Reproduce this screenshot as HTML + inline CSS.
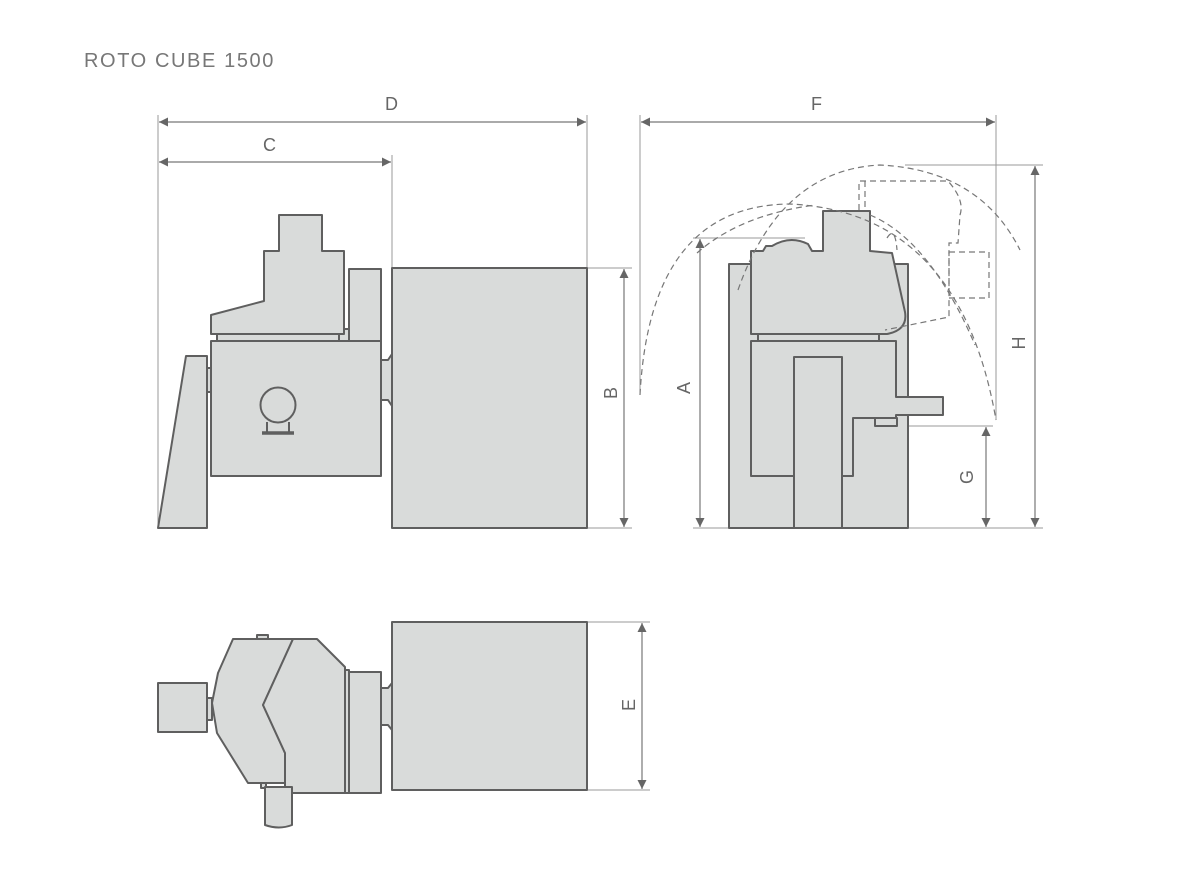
<!DOCTYPE html>
<html><head><meta charset="utf-8"><style>
html,body{margin:0;padding:0;background:#fff}
svg{display:block}
text{font-family:"Liberation Sans",sans-serif;fill:#666}
</style></head><body>
<svg width="1200" height="878" viewBox="0 0 1200 878" xmlns="http://www.w3.org/2000/svg">
<defs>
<marker id="a" viewBox="0 0 10 10" refX="10" refY="5" markerWidth="14" markerHeight="9" markerUnits="userSpaceOnUse" orient="auto-start-reverse"><path d="M0,0L10,5L0,10z" fill="#666"/></marker>
</defs>
<text x="84" y="67" font-size="20" style="fill:#777;letter-spacing:1.6px">ROTO CUBE 1500</text>

<g stroke="#999" stroke-width="1" fill="none">
<line x1="158" y1="115" x2="158" y2="528"/>
<line x1="392" y1="155" x2="392" y2="268"/>
<line x1="587" y1="115" x2="587" y2="268"/>
<line x1="587" y1="268" x2="632" y2="268"/>
<line x1="587" y1="528" x2="632" y2="528"/>
<line x1="587" y1="622" x2="650" y2="622"/>
<line x1="587" y1="790" x2="650" y2="790"/>
<line x1="640" y1="115" x2="640" y2="395"/>
<line x1="996" y1="115" x2="996" y2="420"/>
<line x1="693" y1="238" x2="805" y2="238"/>
<line x1="880" y1="426" x2="993" y2="426"/>
<line x1="905" y1="165" x2="1043" y2="165"/>
<line x1="693" y1="528" x2="1043" y2="528"/>
</g>
<g stroke="#777" stroke-width="1.2" fill="none" marker-start="url(#a)" marker-end="url(#a)">
<line x1="159" y1="122" x2="586" y2="122"/>
<line x1="159" y1="162" x2="391" y2="162"/>
<line x1="624" y1="269" x2="624" y2="527"/>
<line x1="642" y1="623" x2="642" y2="789"/>
<line x1="641" y1="122" x2="995" y2="122"/>
<line x1="700" y1="239" x2="700" y2="527"/>
<line x1="986" y1="427" x2="986" y2="527"/>
<line x1="1035" y1="166" x2="1035" y2="527"/>
</g>
<g font-size="18">
<text x="385" y="110">D</text>
<text x="263" y="151">C</text>
<text x="811" y="110">F</text>
<text transform="translate(617,393) rotate(-90)" text-anchor="middle">B</text>
<text transform="translate(635,705) rotate(-90)" text-anchor="middle">E</text>
<text transform="translate(690,388) rotate(-90)" text-anchor="middle">A</text>
<text transform="translate(973,477) rotate(-90)" text-anchor="middle">G</text>
<text transform="translate(1025,343) rotate(-90)" text-anchor="middle">H</text>
</g>

<g fill="#d9dbda" stroke="#5f5f5f" stroke-width="2" stroke-linejoin="round">
<polygon points="158,528 186,356 207,356 207,528"/>
<rect x="207" y="368" width="5" height="24"/>
<rect x="211" y="341" width="170" height="135"/>
<rect x="217" y="334" width="122" height="7"/>
<rect x="339" y="329" width="10" height="12"/>
<polygon points="211,315 264,301 264,251 279,251 279,215 322,215 322,251 344,251 344,334 211,334"/>
<polygon points="349,269 381,269 381,341 349,341"/>
<circle cx="278" cy="405" r="17.5"/>
<line x1="267" y1="422" x2="267" y2="433"/>
<line x1="289" y1="422" x2="289" y2="433"/>
<line x1="262" y1="433" x2="294" y2="433" stroke-width="3.5"/>
<polygon points="381,360 388,360 392,354 392,406 388,400 381,400"/>
<rect x="392" y="268" width="195" height="260"/>
<rect x="729" y="264" width="179" height="264"/>
<path d="M751,334 L751,251 L763,251 L766,246 L772,246 Q790,235 808,244 L812,251 L823,251 L823,211 L870,211 L870,251 L892,253 L905,312 Q908,330 887,334 Z"/>
<rect x="758" y="334" width="121" height="7"/>
<polygon points="751,341 896,341 896,397 943,397 943,415 896,415 896,418 853,418 853,476 751,476"/>
<rect x="875" y="418" width="22" height="8"/>
<rect x="794" y="357" width="48" height="171"/>
<rect x="158" y="683" width="49" height="49"/>
<rect x="207" y="698" width="5" height="22"/>
<rect x="257" y="635" width="11" height="5"/>
<polygon points="233,639 293,639 263,705 285,753 285,783 248,783 217,733 212,703 218,673"/>
<polygon points="293,639 317,639 345,667 345,793 285,793 285,753 263,705"/>
<rect x="345" y="670" width="4" height="123"/>
<rect x="349" y="672" width="32" height="121"/>
<polygon points="381,688 388,688 392,683 392,730 388,725 381,725"/>
<rect x="392" y="622" width="195" height="168"/>
<rect x="261" y="783" width="5" height="5"/>
<path d="M265,787 L292,787 L292,825 Q279,830 265,825 Z"/>
</g>

<g fill="none" stroke="#777" stroke-width="1.2" stroke-dasharray="6,4">
<path d="M640,395 Q650,205 790,204 Q960,212 996,420"/>
<path d="M738,290 Q780,170 880,165 Q980,170 1020,250"/>
<path d="M697,253 Q740,215 815,205"/>
<path d="M859,210 L859,181 L948,181 Q965,200 960,215 L958,243 L949,243 L949,317 L885,330"/>
<rect x="949" y="252" width="40" height="46"/>
<line x1="865" y1="181" x2="865" y2="211"/>
<path d="M870,215 Q930,240 975,345"/>
<path d="M887,238 Q895,225 897,250"/>
</g>
</svg>
</body></html>
